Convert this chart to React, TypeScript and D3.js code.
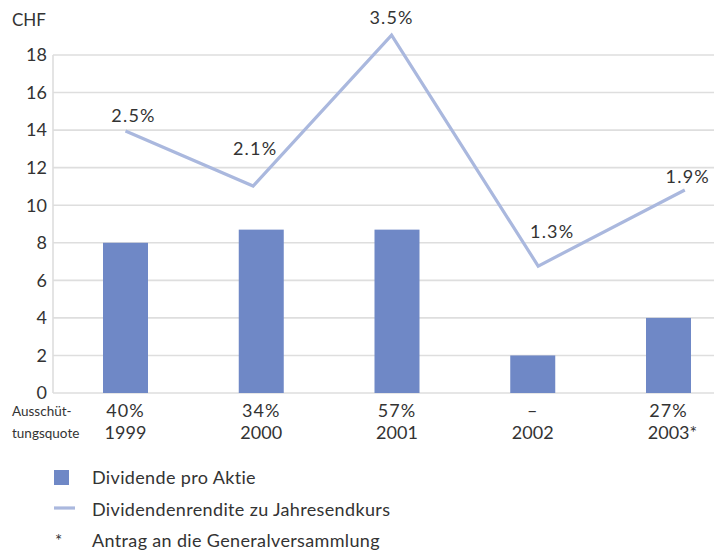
import React from "react";
import * as d3 from "d3";

const years = ["1999", "2000", "2001", "2002", "2003"];
const yearSuffix = ["", "", "", "", "*"];
const payoutRatio = ["40%", "34%", "57%", "–", "27%"];
const dividend = [8, 8.7, 8.7, 2, 4];
const yieldPlot = [13.95, 11.02, 19.06, 6.76, 10.81];
const yieldPos = [0, 0.94, 1.96, 3.04, 4.12];
const yieldLabels = ["2.5%", "2.1%", "3.5%", "1.3%", "1.9%"];
const yTicks = [0, 2, 4, 6, 8, 10, 12, 14, 16, 18];
const legendItems = ["Dividende pro Aktie", "Dividendenrendite zu Jahresendkurs", "Antrag an die Generalversammlung"];

const W = 721;
const H = 551;
const FONT = "Lato, 'Open Sans', sans-serif";
const BAR = "#6f88c6";
const LINE = "#aab8de";
const GRID = "#dedede";
const TEXT = "#333333";

export default function App() {
  const left = 53;
  const right = 714;
  const y = d3.scaleLinear().domain([0, 18]).range([393, 55]);
  const xc = d3.scaleLinear().domain([0, 4]).range([125.5, 668.5]);
  const barW = 45;

  const lineGen = d3
    .line<number>()
    .x((_, i) => xc(yieldPos[i]))
    .y((d) => y(d));

  const labelOffsets = [
    { dx: 8, dy: -9 },
    { dx: 2, dy: -31 },
    { dx: 0, dy: -11 },
    { dx: 14, dy: -28 },
    { dx: 3, dy: -7 },
  ];

  return (
    <svg width={W} height={H} style={{ position: "absolute", left: 0, top: 0, background: "#fff" }}>
      {yTicks.map((t) => (
        <line key={t} x1={left} x2={right} y1={y(t)} y2={y(t)} stroke={GRID} strokeWidth={1.6} />
      ))}
      <line x1={left} x2={left} y1={y(18)} y2={y(0)} stroke={GRID} strokeWidth={1.6} />
      {yTicks.map((t) => (
        <text key={"l" + t} x={47} y={y(t)} dy="0.35em" textAnchor="end" fontFamily={FONT} fontSize={18} fill={TEXT}>
          {t}
        </text>
      ))}
      <text x={12} y={20} dy="0.35em" fontFamily={FONT} fontSize={17} fill={TEXT}>
        CHF
      </text>
      {dividend.map((d, i) => (
        <rect key={"b" + i} x={xc(i) - barW / 2} y={y(d)} width={barW} height={y(0) - y(d)} fill={BAR} />
      ))}
      <path d={lineGen(yieldPlot) || ""} fill="none" stroke={LINE} strokeWidth={3.2} strokeLinejoin="miter" />
      {yieldPlot.map((v, i) => (
        <text
          key={"yl" + i}
          x={xc(yieldPos[i]) + labelOffsets[i].dx}
          y={y(v) + labelOffsets[i].dy}
          textAnchor="middle"
          fontFamily={FONT}
          fontSize={18}
          letterSpacing={1.2}
          fill={TEXT}
        >
          {yieldLabels[i]}
        </text>
      ))}
      <text x={12} y={411} dy="0.35em" fontFamily={FONT} fontSize={13.5} fill={TEXT}>
        Ausschüt-
      </text>
      <text x={12} y={433} dy="0.35em" fontFamily={FONT} fontSize={13.5} fill={TEXT}>
        tungsquote
      </text>
      {years.map((yr, i) => (
        <g key={"x" + i}>
          <text x={xc(i)} y={411} dy="0.35em" textAnchor="middle" fontFamily={FONT} fontSize={18} letterSpacing={1} fill={TEXT}>
            {payoutRatio[i]}
          </text>
          <text x={xc(i) + (yearSuffix[i] ? 4 : 0)} y={433} dy="0.35em" textAnchor="middle" fontFamily={FONT} fontSize={18} fill={TEXT}>
            {yr + yearSuffix[i]}
          </text>
        </g>
      ))}
      <rect x={54} y={470} width={15} height={15} fill={BAR} />
      <text x={92} y={478} dy="0.35em" fontFamily={FONT} fontSize={18} letterSpacing={0.35} fill={TEXT}>
        {legendItems[0]}
      </text>
      <line x1={54} x2={75} y1={508} y2={508} stroke={LINE} strokeWidth={3.2} />
      <text x={92} y={510} dy="0.35em" fontFamily={FONT} fontSize={18} letterSpacing={0.35} fill={TEXT}>
        {legendItems[1]}
      </text>
      <text x={55} y={541} dy="0.35em" fontFamily={FONT} fontSize={17} fill={TEXT}>
        *
      </text>
      <text x={92} y={541} dy="0.35em" fontFamily={FONT} fontSize={18} letterSpacing={0.35} fill={TEXT}>
        {legendItems[2]}
      </text>
    </svg>
  );
}
